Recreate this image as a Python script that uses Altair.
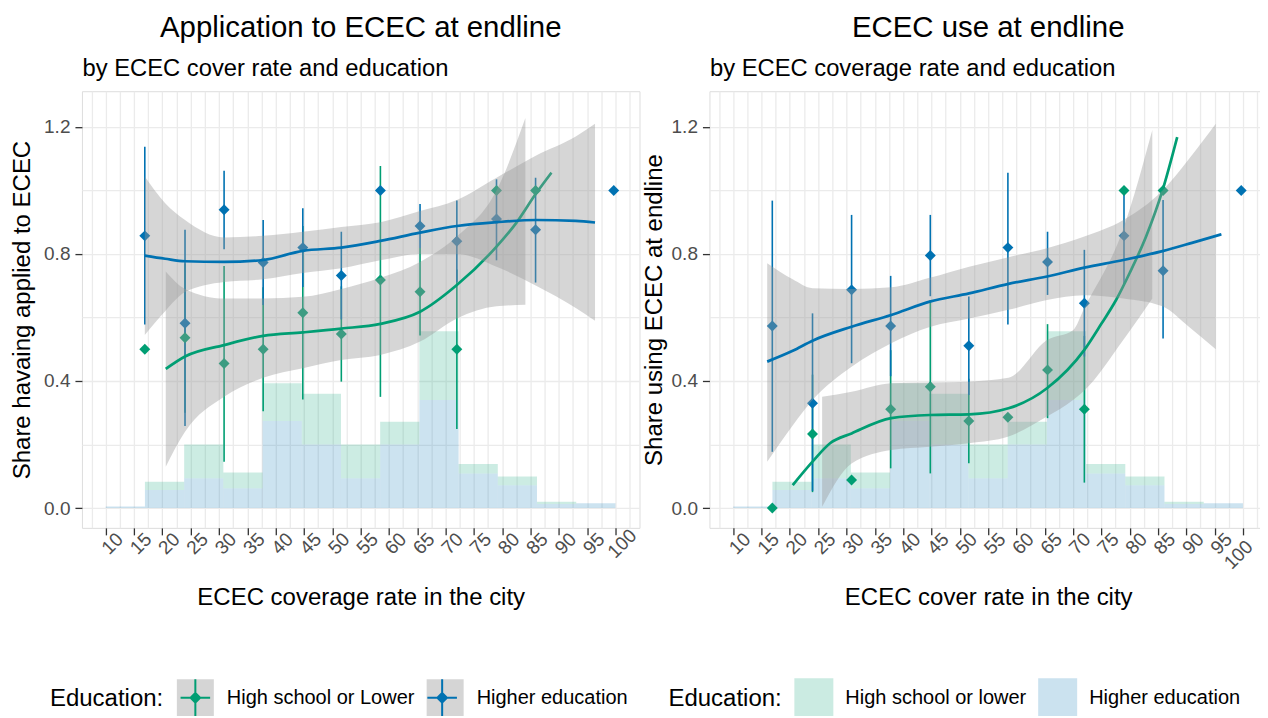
import altair as alt
import pandas as pd

GREEN = "#009E73"
BLUE = "#0072B2"
BAND = "#999999"
FONT = "Liberation Sans"
INK = "#333333"
TICKTXT = "#4D4D4D"
GRID = "#EBEBEB"

# ---------------- data ----------------
bin_edges = [10, 16.92, 23.85, 30.77, 37.69, 44.62, 51.54, 58.46, 65.38, 72.31, 79.23, 86.15, 93.08, 100]
hist_higher = [0.005, 0.057, 0.094, 0.062, 0.274, 0.200, 0.094, 0.200, 0.340, 0.109, 0.072, 0.013, 0.015]
hist_lower = [0.000, 0.026, 0.106, 0.050, 0.119, 0.160, 0.106, 0.072, 0.217, 0.030, 0.027, 0.007, 0.000]

cover_x = [16.9, 24.0, 30.9, 37.8, 44.8, 51.6, 58.5, 65.5, 72.0, 79.0, 85.9, 99.7]

# Application panel
app_lower_mean = [0.500, 0.536, 0.455, 0.500, 0.615, 0.548, 0.718, 0.681, 0.500, 1.000, 1.000, None]
app_lower_lo = [None, 0.300, 0.146, 0.305, 0.342, 0.398, 0.350, 0.543, 0.249, None, None, None]
app_lower_hi = [None, 0.770, 0.762, 0.695, 0.888, 0.698, 1.077, 0.819, 0.751, None, None, None]
app_higher_mean = [0.857, 0.582, 0.939, 0.773, 0.820, 0.732, 1.000, 0.888, 0.840, 0.910, 0.876, 1.000]
app_higher_lo = [0.578, 0.258, 0.815, 0.639, 0.696, 0.594, None, 0.819, 0.712, 0.780, 0.710, None]
app_higher_hi = [1.138, 0.876, 1.062, 0.907, 0.944, 0.870, None, 0.957, 0.968, 1.035, 1.040, None]

app_lower_fit_x = [20.6, 24.0, 30.9, 37.8, 44.8, 51.6, 58.5, 65.5, 72.0, 79.0, 82.5, 86.0, 88.7]
app_lower_fit = [0.438, 0.477, 0.513, 0.542, 0.553, 0.565, 0.580, 0.618, 0.702, 0.823, 0.898, 0.991, 1.056]
app_lower_band_x = [20.6, 24.0, 30.9, 37.8, 44.8, 51.6, 58.5, 65.5, 72.0, 79.0, 84.1]
app_lower_band_lo = [0.130, 0.240, 0.350, 0.410, 0.440, 0.466, 0.482, 0.524, 0.597, 0.635, 0.640]
app_lower_band_hi = [0.745, 0.690, 0.660, 0.660, 0.665, 0.690, 0.725, 0.775, 0.855, 1.000, 1.228]

app_higher_fit_x = [16.9, 20.5, 24.0, 30.9, 37.8, 44.8, 51.6, 58.5, 65.5, 72.0, 79.0, 86.0, 93.0, 96.4]
app_higher_fit = [0.795, 0.785, 0.777, 0.775, 0.781, 0.810, 0.820, 0.841, 0.867, 0.888, 0.900, 0.907, 0.904, 0.899]
app_higher_band_lo = [0.545, 0.620, 0.680, 0.712, 0.720, 0.740, 0.755, 0.780, 0.800, 0.800, 0.760, 0.700, 0.630, 0.590]
app_higher_band_hi = [1.044, 0.960, 0.907, 0.852, 0.857, 0.870, 0.885, 0.900, 0.935, 0.970, 1.040, 1.110, 1.170, 1.210]

# Use panel
use_lower_mean = [0.000, 0.233, 0.088, 0.311, 0.382, 0.274, 0.286, 0.435, 0.311, 1.000, 1.000, None]
use_lower_lo = [None, 0.050, None, 0.125, 0.109, 0.141, None, 0.283, 0.080, None, None, None]
use_lower_hi = [None, 0.420, None, 0.497, 0.655, 0.407, None, 0.579, 0.542, None, None, None]
use_higher_mean = [0.573, 0.330, 0.687, 0.573, 0.795, 0.511, 0.820, 0.775, 0.645, 0.857, 0.747, 1.000]
use_higher_lo = [0.177, 0.054, 0.456, 0.415, 0.667, 0.356, 0.578, 0.671, 0.477, 0.700, 0.534, None]
use_higher_hi = [0.968, 0.613, 0.923, 0.731, 0.923, 0.666, 1.056, 0.870, 0.813, 1.000, 0.970, None]

use_lower_fit_x = [20.5, 24.0, 27.1, 30.9, 37.9, 44.7, 51.65, 58.6, 65.4, 72.0, 75.0, 77.6, 80.0, 82.9, 85.8, 88.4]
use_lower_fit = [0.072, 0.146, 0.204, 0.235, 0.283, 0.293, 0.295, 0.314, 0.377, 0.498, 0.580, 0.655, 0.740, 0.855, 1.000, 1.168]
use_lower_band_x = [25.7, 30.9, 37.9, 44.7, 51.65, 58.6, 65.4, 70.0, 72.0, 78.9, 84.0]
use_lower_band_lo = [0.004, 0.140, 0.183, 0.193, 0.204, 0.225, 0.288, 0.340, 0.370, 0.530, 0.660]
use_lower_band_hi = [0.350, 0.366, 0.393, 0.395, 0.398, 0.410, 0.529, 0.560, 0.630, 0.880, 1.190]

use_higher_fit_x = [16.0, 20.5, 24.0, 30.9, 37.9, 44.7, 51.65, 58.6, 65.4, 72.0, 78.9, 85.8, 91.0, 96.2]
use_higher_fit = [0.461, 0.495, 0.527, 0.571, 0.608, 0.650, 0.676, 0.706, 0.729, 0.757, 0.781, 0.809, 0.835, 0.862]
use_higher_band_x = [16.0, 20.5, 24.0, 30.9, 37.9, 44.7, 51.65, 58.6, 65.4, 72.0, 78.9, 85.8, 90.5, 95.2]
use_higher_band_lo = [0.146, 0.260, 0.340, 0.445, 0.519, 0.570, 0.597, 0.624, 0.655, 0.670, 0.660, 0.635, 0.570, 0.500]
use_higher_band_hi = [0.771, 0.720, 0.692, 0.690, 0.695, 0.725, 0.760, 0.790, 0.818, 0.855, 0.907, 1.000, 1.100, 1.210]

x_ticks = [10, 15, 20, 25, 30, 35, 40, 45, 50, 55, 60, 65, 70, 75, 80, 85, 90, 95, 100]
x_grid = [7.5 + 2.5 * i for i in range(39)]
y_ticks = [0.0, 0.4, 0.8, 1.2]
y_grid = [0.0, 0.2, 0.4, 0.6, 0.8, 1.0, 1.2]

X_DOMAIN = [5.8, 104.25]
Y_DOMAIN = [-0.0625, 1.3125]
W, H = 558, 437
LEG_Y = 587.5
CROSS = "M-0.8,0L0.8,0M0,-1L0,1M0,-0.26L0.26,0L0,0.26L-0.26,0Z"


def build_panel(title, subtitle, xtitle, ytitle, labels, lower, higher,
                lower_fit, higher_fit, lower_band, higher_band, left_style, legend_x,
                ytitle_pad, xtitle_pad):
    lab_lo, lab_hi = labels
    dom = [lab_lo, lab_hi]
    xs = alt.Scale(domain=X_DOMAIN, nice=False, zero=False)
    ys = alt.Scale(domain=Y_DOMAIN, nice=False, zero=False)
    grp = alt.Scale(domain=dom, range=[GREEN, BLUE])

    n = len(hist_higher)
    hist_df = pd.DataFrame({
        "x0": bin_edges[:-1] * 2,
        "x1": bin_edges[1:] * 2,
        "edu": [lab_hi] * n + [lab_lo] * n,
        "y0": [0.0] * n + hist_higher,
        "y1": hist_higher + [a + b for a, b in zip(hist_higher, hist_lower)],
    })

    pt_rows, err_rows = [], []
    for lab, (means, los, his) in ((lab_lo, lower), (lab_hi, higher)):
        for x, m, lo, hi in zip(cover_x, means, los, his):
            if m is not None:
                pt_rows.append({"x": x, "y": m, "edu": lab})
            if lo is not None:
                err_rows.append({"x": x, "lo": lo, "hi": hi, "edu": lab})
    pt_df = pd.DataFrame(pt_rows)
    err_df = pd.DataFrame(err_rows)

    leg_common = dict(orient="none", legendX=legend_x, legendY=LEG_Y, direction="horizontal",
                      title="Education:", titleOrient="left", titleAnchor="middle",
                      titleBaseline="middle", titleFontSize=24, titleFontWeight="normal",
                      titleFont=FONT, labelFont=FONT, labelFontSize=20, labelLimit=400,
                      symbolSize=1369, labelOffset=12, columnPadding=8, titlePadding=12,
                      symbolStrokeWidth=2)
    if left_style:
        key_legend = alt.Legend(symbolType=CROSS, labelColor="transparent", titleColor="transparent",
                                symbolOpacity=1, zindex=3, **leg_common)
        bg_legend = alt.Legend(symbolType="square", labelColor="black", titleColor="black",
                               symbolOpacity=0.4, symbolStrokeColor="transparent", zindex=1,
                               labelExpr="datum.label == 'g1' ? '%s' : '%s'" % (lab_lo, lab_hi),
                               **leg_common)
    else:
        key_legend = None
        hist_legend = alt.Legend(symbolType="square", labelColor="black", titleColor="black",
                                 symbolOpacity=0.2, symbolStrokeColor="transparent", **leg_common)

    def grp_enc(channel):
        return channel("edu:N", scale=grp, legend=key_legend)

    top_axis = alt.Axis(orient="top", values=x_grid, grid=True, gridColor=GRID, gridWidth=1.3,
                        labels=False, ticks=False, domain=False, title=subtitle,
                        titleAnchor="start", titleAlign="left", titleFontSize=23.8,
                        titleFontWeight="normal", titleColor="black", titleFont=FONT,
                        titleBaseline="alphabetic", titlePadding=16)
    right_axis = alt.Axis(orient="right", values=y_grid, grid=True, gridColor=GRID, gridWidth=1.3,
                          labels=False, ticks=False, domain=False, title=None)
    hist_enc = dict(x=alt.X("x0:Q", scale=xs, axis=top_axis), x2="x1:Q",
                    y=alt.Y("y0:Q", scale=ys, axis=right_axis), y2="y1:Q")
    if left_style:
        hist_enc["fill"] = grp_enc(alt.Fill)
    else:
        hist_enc["color"] = alt.Color("edu:N", scale=grp, legend=hist_legend)
    hist = alt.Chart(hist_df).mark_bar(opacity=0.2, strokeWidth=0).encode(**hist_enc)

    err = alt.Chart(err_df).mark_rule(strokeWidth=1.6).encode(
        x=alt.X("x:Q", scale=xs, axis=None),
        y=alt.Y("lo:Q", scale=ys, axis=None), y2="hi:Q",
        stroke=grp_enc(alt.Stroke))

    if left_style:
        label_align = "center"
    else:
        # keep the last label inside the page edge
        label_align = {"condition": {"test": "datum.value >= 100", "value": "right"}, "value": "center"}
    bottom_axis = alt.Axis(orient="bottom", values=x_ticks, grid=False, domain=False,
                           tickColor=INK, tickSize=7, tickWidth=1.3,
                           labelAngle=-45, labelAlign=label_align, labelBaseline="top",
                           labelFontSize=19, labelColor=TICKTXT, labelFont=FONT, labelPadding=2,
                           labelOverlap=False, labelFlush=False,
                           title=xtitle, titleFontSize=24, titleFontWeight="normal",
                           titleColor="black", titleFont=FONT, titlePadding=xtitle_pad)
    left_axis = alt.Axis(orient="left", values=y_ticks, format=".1f", grid=False, domain=False,
                         tickColor=INK, tickSize=7, tickWidth=1.3,
                         labelFontSize=19, labelColor=TICKTXT, labelFont=FONT, labelPadding=5,
                         title=ytitle, titleFontSize=24, titleFontWeight="normal",
                         titleColor="black", titleFont=FONT, titlePadding=ytitle_pad)
    pts = alt.Chart(pt_df).mark_point(shape="diamond", filled=True, size=120, opacity=1,
                                      strokeWidth=0).encode(
        x=alt.X("x:Q", scale=xs, axis=bottom_axis),
        y=alt.Y("y:Q", scale=ys, axis=left_axis),
        fill=grp_enc(alt.Fill))

    def band_layer(bx, blo, bhi, key, lab):
        df = pd.DataFrame({"x": bx, "lo": blo, "hi": bhi, "bg": key, "edu": lab})
        enc = dict(x=alt.X("x:Q", scale=xs, axis=None),
                   y=alt.Y("lo:Q", scale=ys, axis=None), y2="hi:Q")
        if left_style:
            enc["color"] = alt.Color("bg:N", scale=alt.Scale(domain=["g1", "g2"], range=[BAND, BAND]),
                                     legend=bg_legend)
            return alt.Chart(df).mark_area(opacity=0.4, interpolate="monotone").encode(**enc)
        return alt.Chart(df).mark_area(opacity=0.4, color=BAND, interpolate="monotone").encode(**enc)

    def line_layer(fx, fy, lab):
        df = pd.DataFrame({"x": fx, "fit": fy, "edu": lab})
        return alt.Chart(df).mark_line(strokeWidth=2.7, interpolate="monotone").encode(
            x=alt.X("x:Q", scale=xs, axis=None),
            y=alt.Y("fit:Q", scale=ys, axis=None),
            stroke=grp_enc(alt.Stroke))

    layers = [hist, err, pts,
              band_layer(*lower_band, "g1", lab_lo), line_layer(*lower_fit, lab_lo),
              band_layer(*higher_band, "g2", lab_hi), line_layer(*higher_fit, lab_hi)]
    return alt.layer(*layers).resolve_axis(x="independent", y="independent").properties(
        width=W, height=H,
        title=alt.TitleParams(text=title, anchor="middle", frame="group", fontSize=29.4,
                              fontWeight="normal", font=FONT, color="black", offset=13))


left = build_panel(
    "Application to ECEC at endline", "by ECEC cover rate and education",
    "ECEC coverage rate in the city", "Share havaing applied to ECEC",
    ("High school or Lower", "Higher education"),
    (app_lower_mean, app_lower_lo, app_lower_hi),
    (app_higher_mean, app_higher_lo, app_higher_hi),
    (app_lower_fit_x, app_lower_fit), (app_higher_fit_x, app_higher_fit),
    (app_lower_band_x, app_lower_band_lo, app_lower_band_hi),
    (app_higher_fit_x, app_higher_band_lo, app_higher_band_hi),
    True, -32, 9, 24)

right = build_panel(
    "ECEC use at endline", "by ECEC coverage rate and education",
    "ECEC cover rate in the city", "Share using ECEC at endline",
    ("High school or lower", "Higher education"),
    (use_lower_mean, use_lower_lo, use_lower_hi),
    (use_higher_mean, use_higher_lo, use_higher_hi),
    (use_lower_fit_x, use_lower_fit), (use_higher_fit_x, use_higher_fit),
    (use_lower_band_x, use_lower_band_lo, use_lower_band_hi),
    (use_higher_band_x, use_higher_band_lo, use_higher_band_hi),
    False, -41, 5, 13)

chart = alt.hconcat(left, right, spacing=0).resolve_scale(
    color="independent", fill="independent", stroke="independent",
    x="independent", y="independent").resolve_legend(
    color="independent", fill="independent", stroke="independent").properties(
    padding={"left": 2, "top": 4, "right": -8, "bottom": -5.5}).configure_view(
    stroke=INK, strokeWidth=1.3).configure(font=FONT, background="white")

chart.save("out.html", embed_options={"renderer": "svg", "actions": False})
